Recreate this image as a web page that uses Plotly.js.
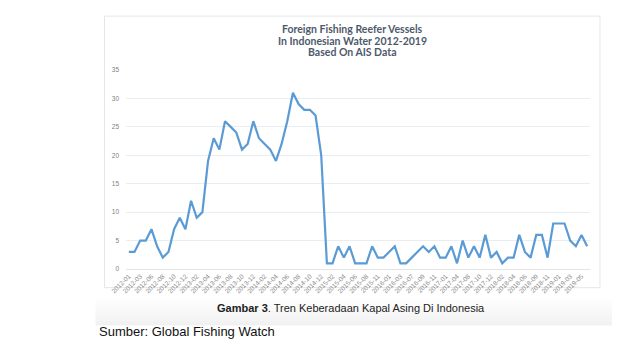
<!DOCTYPE html>
<html>
<head>
<meta charset="utf-8">
<script src="https://cdn.plot.ly/plotly-3.0.1.min.js"></script>
<style>
html,body{margin:0;padding:0;background:#fff;}
#chart{width:640px;height:360px;}
</style>
</head>
<body>
<div id="chart"></div>
<script>
// Monthly categories (only every other one is labelled on the axis)
var categories = [
 "2012-01","2012-02","2012-03","2012-04","2012-06","2012-07","2012-08","2012-09","2012-10","2012-11",
 "2012-12","2013-01","2013-02","2013-03","2013-04","2013-05","2013-06","2013-07","2013-08","2013-09",
 "2013-10","2013-11","2013-12","2014-01","2014-02","2014-03","2014-04","2014-05","2014-06","2014-07",
 "2014-08","2014-09","2014-10","2014-11","2014-12","2015-01","2015-02","2015-03","2015-04","2015-05",
 "2015-06","2015-07","2015-08","2015-10","2015-11","2015-12","2016-01","2016-02","2016-03","2016-05",
 "2016-07","2016-08","2016-09","2016-10","2016-11","2016-12","2017-01","2017-02","2017-04","2017-06",
 "2017-08","2017-09","2017-10","2017-11","2017-12","2018-01","2018-02","2018-03","2018-04","2018-05",
 "2018-06","2018-07","2018-09","2018-10","2018-11","2018-12","2019-01","2019-02","2019-03","2019-04",
 "2019-05","2019-06"
];
var vessels = [
 3,3,5,5,7,4,2,3,7,9,
 7,12,9,10,19,23,21,26,25,24,
 21,22,26,23,22,21,19,22,26,31,
 29,28,28,27,20,1,1,4,2,4,
 1,1,1,4,2,2,3,4,1,1,
 2,3,4,3,4,2,2,4,1,5,
 2,4,2,6,2,3,1,2,2,6,
 3,2,6,6,2,8,8,8,5,4,
 6,4
];
var tickLabels = [
 "2012-01","2012-03","2012-06","2012-08","2012-10","2012-12",
 "2013-02","2013-04","2013-06","2013-08","2013-10","2013-12",
 "2014-02","2014-04","2014-06","2014-08","2014-10","2014-12",
 "2015-02","2015-04","2015-06","2015-08","2015-11",
 "2016-01","2016-03","2016-07","2016-09","2016-11",
 "2017-01","2017-04","2017-08","2017-10","2017-12",
 "2018-02","2018-04","2018-06","2018-09","2018-11",
 "2019-01","2019-03","2019-05"
];
var yTicks = [0,5,10,15,20,25,30,35];
var titleLines = ["Foreign Fishing Reefer Vessels","In Indonesian Water 2012-2019","Based On AIS Data"];

// plot area in pixels
var W=640,H=360, PL=125.5, PR=590, PT=70, PB=269.3;
function fx(px){return (px-PL)/(PR-PL);}
function fy(py){return (PB-py)/(PB-PT);}

var annotations = titleLines.map(function(t,i){
  return {text:t, xref:'paper', yref:'paper', x:fx(352), y:fy(29+i*11.5),
    xanchor:'center', yanchor:'middle', showarrow:false,
    font:{family:'Lato, "Open Sans", sans-serif', size:10.5, color:'#4e5a6b', weight:700}};
});
annotations.push({text:'<b>Gambar 3</b>. Tren Keberadaan Kapal Asing Di Indonesia',
  xref:'paper', yref:'paper', x:fx(351), y:fy(308), xanchor:'center', yanchor:'middle',
  showarrow:false, font:{family:'"Liberation Sans", Arial, sans-serif', size:11, color:'#222'}});
annotations.push({text:'Sumber: Global Fishing Watch',
  xref:'paper', yref:'paper', x:fx(96), y:fy(332), xanchor:'left', yanchor:'middle',
  showarrow:false, font:{family:'"Liberation Sans", Arial, sans-serif', size:13, color:'#111'}});

var shapes = [
  {type:'rect', xref:'paper', yref:'paper', x0:fx(104), x1:fx(600), y0:fy(288), y1:fy(16),
   line:{color:'#e6e6e6', width:1}, fillcolor:'rgba(0,0,0,0)', layer:'below'}
];
// soft grey band behind the caption
for (var i=0;i<12;i++){
  var c = 255 - Math.round(i*1.3);
  shapes.push({type:'rect', xref:'paper', yref:'paper', x0:fx(95), x1:fx(612),
    y0:fy(296+i*2.5+2.5), y1:fy(296+i*2.5), line:{width:0},
    fillcolor:'rgb('+c+','+c+','+c+')', layer:'below'});
}

var trace = {
  x: categories, y: vessels, type:'scatter', mode:'lines',
  line:{color:'#5b9bd5', width:2.2}, hoverinfo:'x+y'
};

var layout = {
  width:W, height:H, paper_bgcolor:'#fff', plot_bgcolor:'rgba(0,0,0,0)',
  margin:{l:PL, r:W-PR, t:PT, b:H-PB, pad:0},
  showlegend:false,
  xaxis:{type:'category', categoryorder:'array', categoryarray:categories,
    range:[-0.5, categories.length-0.5], tickmode:'array', tickvals:tickLabels, ticktext:tickLabels,
    tickangle:-45, tickfont:{family:'"Liberation Sans", Arial, sans-serif', size:6.5, color:'#8c8c8c'},
    showgrid:false, showline:true, linecolor:'#e3e3e3', linewidth:1, ticks:'', fixedrange:true},
  yaxis:{range:[0,35], tickvals:yTicks, showgrid:true, gridcolor:'#e9eef3', gridwidth:1,
    zeroline:false, showline:false, ticks:'', ticklabelstandoff:6,
    tickfont:{family:'"Liberation Sans", Arial, sans-serif', size:6.5, color:'#7f7f7f'}},
  annotations:annotations, shapes:shapes
};
Plotly.newPlot('chart',[trace],layout,{staticPlot:true, displayModeBar:false});
</script>
</body>
</html>
